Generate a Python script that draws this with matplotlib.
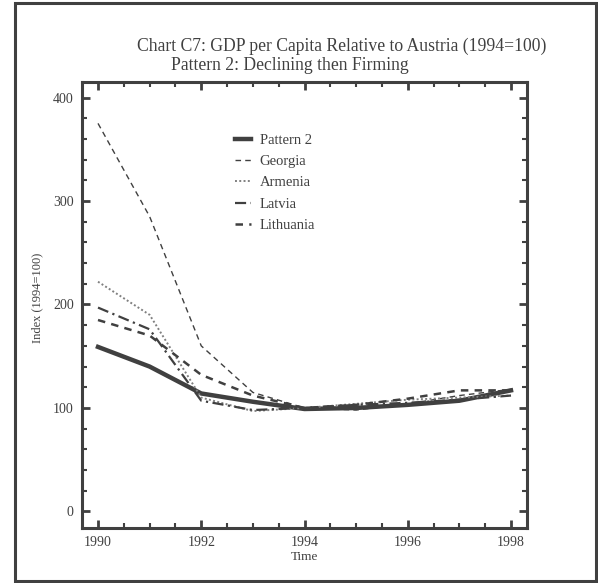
import numpy as np
import matplotlib
matplotlib.use("Agg")
import matplotlib.pyplot as plt
from matplotlib.patches import Rectangle
from matplotlib.ticker import MultipleLocator

plt.rcParams["font.family"] = ["Liberation Serif", "DejaVu Serif"]

years = [1990, 1991, 1992, 1993, 1994, 1995, 1996, 1997, 1998]
pattern2 = [159, 140, 114, 106, 99, 100, 103, 107, 117]
georgia = [375, 285, 160, 115, 100, 98, 104, 112, 118]
armenia = [222, 190, 110, 97, 100, 104, 108, 110, 112]
latvia = [197, 176, 107, 98, 100, 103, 105, 108, 112]
lithuania = [185, 170, 132, 112, 100, 103, 109, 117, 117]

ink = "#404040"

fig = plt.figure(figsize=(5.98, 5.83), dpi=100)
fig.patches.append(Rectangle((15 / 598, 2 / 583), 581 / 598, 578 / 583,
                             transform=fig.transFigure, fill=False,
                             edgecolor=ink, linewidth=2.2))

ax = fig.add_axes([82 / 598, 55 / 583, 445 / 598, 446 / 583])

ax.plot(years, pattern2, color=ink, lw=3.2, label="Pattern 2")
ax.plot(years, georgia, color=ink, lw=1.0, ls=(0, (4, 3)), label="Georgia")
ax.plot(years, armenia, color="#808080", lw=1.4, ls=(0, (1, 1.2)), label="Armenia")
ax.plot(years, latvia, color=ink, lw=1.6, ls=(0, (5, 2, 1, 2)), label="Latvia")
ax.plot(years, lithuania, color=ink, lw=1.8, ls=(0, (3, 2.5)), label="Lithuania")

ax.set_xlim(1989.69, 1998.31)
ax.set_ylim(-16, 415)
ax.xaxis.set_major_locator(MultipleLocator(2))
ax.xaxis.set_minor_locator(MultipleLocator(0.5))
ax.yaxis.set_major_locator(MultipleLocator(100))
ax.yaxis.set_minor_locator(MultipleLocator(20))

for s in ax.spines.values():
    s.set_linewidth(2.2)
    s.set_color(ink)
ax.tick_params(which="both", direction="in", top=True, right=True, color=ink,
               labelcolor=ink, labelsize=10)
ax.tick_params(which="major", length=6, width=2.0, pad=6)
ax.tick_params(which="minor", length=3.5, width=1.5)

ax.set_xlabel("Time", fontsize=9.5, color=ink, labelpad=1)
fig.text(37 / 598, 1 - 298 / 583, "Index (1994=100)", rotation=90,
         ha="center", va="center", fontsize=9, color=ink)

fig.text(342 / 598, 1 - 46 / 583,
         "Chart C7: GDP per Capita Relative to Austria (1994=100)",
         ha="center", va="center", fontsize=12.7, color=ink)
fig.text(290 / 598, 1 - 65 / 583, "Pattern 2: Declining then Firming",
         ha="center", va="center", fontsize=12.7, color=ink)

leg = ax.legend(loc="upper left", bbox_to_anchor=(0.344, 0.884), frameon=False,
                fontsize=10.5, handlelength=1.1, handletextpad=0.6,
                labelspacing=0.55, borderpad=0, borderaxespad=0)
for t in leg.get_texts():
    t.set_color(ink)

fig.savefig("out.png", dpi=100)
